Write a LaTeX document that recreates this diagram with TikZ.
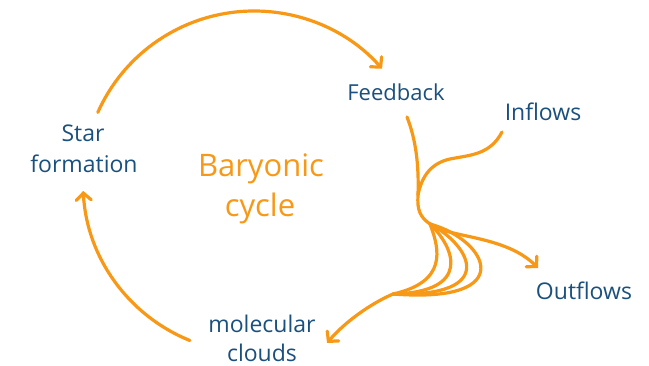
\documentclass[tikz,border=0pt]{standalone}
\usepackage{fontspec}
\setmainfont{Open Sans}
\usetikzlibrary{arrows.meta,calc}
\definecolor{flow}{RGB}{247,152,22}
\definecolor{ink}{RGB}{26,80,126}
\tikzset{
  flowline/.style={draw=flow, line width=3.2pt, line cap=round},
  arrowed/.style={flowline, -{Straight Barb[length=7pt,width=15pt,line cap=round]}},
  lbl/.style={text=ink, font=\fontsize{23}{23}\selectfont, inner sep=0pt, anchor=base},
  title/.style={text=flow, font=\fontsize{31}{31}\selectfont, inner sep=0pt, anchor=base}
}
\begin{document}
\begin{tikzpicture}[x=1pt,y=1pt]
\useasboundingbox (0,0) rectangle (649,366);
% labels
\node[lbl] (star) at (83,224) {Star};
\node[lbl] (formation) at (84,193) {formation};
\node[title] (baryonic) at (261,189) {Baryonic};
\node[title] (cycle) at (260,149) {cycle};
\node[lbl, font=\fontsize{22}{22}\selectfont] (feedback) at (396,265) {Feedback};
\node[lbl] (inflows) at (543,245) {Inflows};
\node[lbl] (molecular) at (262,33) {molecular};
\node[lbl] (clouds) at (262,4) {clouds};
\node[lbl] (outflows) at (584,66) {Outflows};
% cycle geometry
\coordinate (c) at (254,184);
\coordinate (topstart) at ($(c)+(156:171)$);
\coordinate (leftstart) at ($(c)+(248:171)$);
\coordinate (fbstart) at (407,249);
\coordinate (inflowstart) at (502,234);
\coordinate (merge) at (418,171);
\coordinate (split) at (430,142);
\coordinate (join) at (393,72);
\coordinate (outtip) at (538,98);
\coordinate (cloudtip) at (327,23);
% top arc: star formation -> feedback
\draw[arrowed] (topstart) arc[start angle=156, end angle=41.5, radius=171];
% left arc: molecular clouds -> star formation
\draw[arrowed] (leftstart) arc[start angle=248, end angle=183, radius=171];
% feedback line
\draw[flowline] (fbstart) .. controls (416,226) and (419,201) .. (merge)
  .. controls (417,156) and (420,149) .. (split);
% inflows
\draw[flowline] (inflowstart) .. controls (490,211) and (470,211) .. (450,207)
  .. controls (432,203) and (422,191) .. (merge);
% outflows branch
\draw[arrowed] (split) .. controls (448,128) and (505,131) .. (outtip);
% loops
\draw[flowline] (split) .. controls (440,116) and (447,84) .. (join);
\draw[flowline] (split) .. controls (455,118) and (472,74) .. (join);
\draw[flowline] (split) .. controls (470,121) and (500,69) .. (join);
\draw[flowline] (split) .. controls (488,126) and (520,62) .. (join);
% to molecular clouds
\draw[arrowed] (join) .. controls (370,62) and (345,44) .. (cloudtip);
\end{tikzpicture}
\end{document}
